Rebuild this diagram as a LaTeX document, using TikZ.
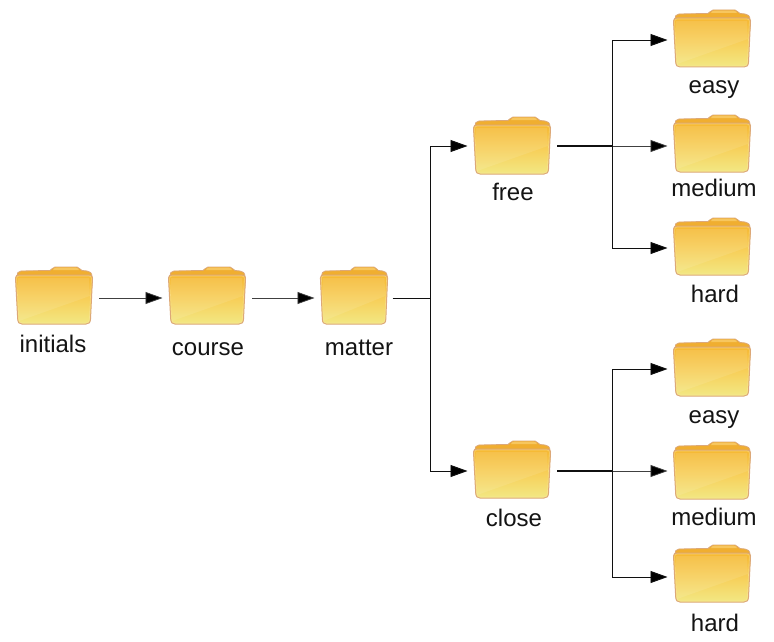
\documentclass[tikz,border=0pt]{standalone}
\usepackage{fontspec}
\setmainfont{Liberation Sans}
\usetikzlibrary{arrows.meta}
\definecolor{fedge}{HTML}{DCA878}
\definecolor{fback}{HTML}{F0AE30}
\definecolor{fhi}{HTML}{F7C65E}
\definecolor{ftop}{HTML}{F6B832}
\definecolor{fmid}{HTML}{F7CF5A}
\definecolor{fbot}{HTML}{F2E884}
\definecolor{finner}{HTML}{FBE6A0}
\definecolor{lineink}{HTML}{101010}
\tikzset{
  folderanchor/.style={minimum height=40pt,inner sep=0pt,outer sep=6pt},
  conn/.style={draw=lineink,line width=0.95pt},
  thinconn/.style={draw=lineink!80,line width=0.75pt},
  headtip/.style={-{Triangle[length=17pt,width=12pt,fill=black]}},
  arrowconn/.style={conn,headtip,shorten >=-0.5pt},
  thinarrow/.style={thinconn,headtip,shorten >=-0.5pt},
  lbl/.style={font=\fontsize{24}{26}\selectfont,text=black!92,inner sep=0pt,anchor=base}
}
% #1 name, #2 left, #3 top, #4 width, #5 connector y
\newcommand{\folderat}[5]{%
  \begin{scope}[shift={(#2,#3)},xscale=#4/78]
    \path[fill=fback,draw=fedge,line width=0.8pt,line join=round]
      (2,11) .. controls (2,7) and (3,5) .. (6,5) -- (35,4.4)
      .. controls (37,4.4) and (37,1) .. (40,1) -- (62,1)
      .. controls (65,1) and (64,4) .. (67,4.5) -- (72,5)
      .. controls (75,5) and (77,7) .. (77,11) -- (77,20) -- (2,20) -- cycle;
    \path[fill=fhi] (38,4) .. controls (39,1.7) and (40,1.7) .. (41,1.7) -- (61,1.7)
      .. controls (63,1.7) and (63,3) .. (64,4) -- cycle;
    \path[top color=ftop,bottom color=fbot,middle color=fmid,draw=fedge,line width=1pt,line join=round]
      (0.5,12) .. controls (0.5,10) and (2,9) .. (4,9) -- (74,9)
      .. controls (76.5,9) and (77.5,10) .. (77.5,12)
      -- (75.5,53) .. controls (75.3,56.5) and (74,58) .. (71,58)
      -- (7,58) .. controls (4,58) and (3,56.5) .. (2.7,53) -- cycle;
    \path[fill=white,fill opacity=0.10]
      (74,12) -- (74.8,30) -- (4,55) .. controls (4,50) and (3,40) .. (3,30) -- (3,12) -- cycle;
    \path[draw=finner,draw opacity=0.55,line width=0.6pt,line join=round]
      (1.6,12.5) .. controls (1.6,11) and (2.6,10) .. (4,10) -- (74,10)
      .. controls (75.6,10) and (76.4,11) .. (76.4,12.5)
      -- (74.4,53) .. controls (74.2,55.6) and (73.4,57) .. (71,57)
      -- (7,57) .. controls (4.8,57) and (4,55.6) .. (3.8,53) -- cycle;
  \end{scope}
  \node[folderanchor,minimum width=#4 pt] (#1) at ({#2+#4/2},#5) {};
}
\begin{document}
\begin{tikzpicture}[x=1pt,y=-1pt]
\useasboundingbox (0,0) rectangle (774,642);
\fill[white] (0,0) rectangle (774,642);

\folderat{initials}{15}{266}{78}{298}
\folderat{course}{168}{266}{78}{298}
\folderat{matter}{320}{266}{68}{298}
\folderat{free}{473}{116}{78}{146}
\folderat{close}{473}{440}{78}{471}
\folderat{easyA}{673}{9}{78}{40}
\folderat{mediumA}{673}{114}{78}{146}
\folderat{hardA}{673}{217}{78}{248}
\folderat{easyB}{673}{338}{78}{369}
\folderat{mediumB}{673}{441}{78}{471}
\folderat{hardB}{673}{544}{78}{577}

\node[lbl] (tinitials) at (53,352) {initials};
\node[lbl] (tcourse) at (208,355) {course};
\node[lbl] (tmatter) at (359,355) {matter};
\node[lbl] (tfree) at (513,200) {free};
\node[lbl] (tclose) at (514,526) {close};
\node[lbl] (teasyA) at (714,94) {easy};
\node[lbl] (tmediumA) at (714,196) {medium};
\node[lbl] (thardA) at (715,302) {hard};
\node[lbl] (teasyB) at (714,423) {easy};
\node[lbl] (tmediumB) at (714,525) {medium};
\node[lbl] (thardB) at (715,631) {hard};

\coordinate (jm) at (430,298);
\coordinate (jf) at (612,146);
\coordinate (jc) at (612,471);

\draw[thinarrow] (initials.east) -- (course.west);
\draw[thinarrow] (course.east) -- (matter.west);
\draw[conn] ([xshift=-1.5pt]matter.east) -- (jm);
\draw[arrowconn] (jm) |- (free.west);
\draw[arrowconn] (jm) |- (close.west);
\draw[conn,line width=1.2pt] (free.east) -- (jf);
\draw[arrowconn] (jf) |- (easyA.west);
\draw[thinarrow] (jf) -- (mediumA.west);
\draw[arrowconn] (jf) |- (hardA.west);
\draw[conn,line width=1.2pt] (close.east) -- (jc);
\draw[arrowconn] (jc) |- (easyB.west);
\draw[thinarrow] (jc) -- (mediumB.west);
\draw[arrowconn] (jc) |- (hardB.west);
\end{tikzpicture}
\end{document}
